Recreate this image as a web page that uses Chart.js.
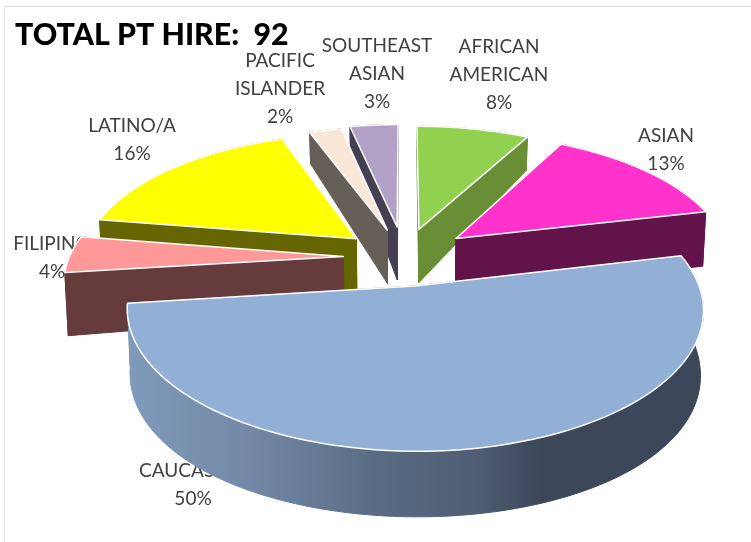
<!DOCTYPE html>
<html>
<head>
<meta charset="utf-8">
<title>Total PT hire</title>
<script src="https://cdn.jsdelivr.net/npm/chart.js@4"></script>
<style>
	html, body { margin: 0; padding: 0; background: #fff; overflow: hidden; }
	#frame { position: absolute; left: 4px; top: 6px; width: 760px; height: 550px; border-left: 1px solid #e2e2e2; border-top: 1px solid #e2e2e2; }
	#chart { position: absolute; left: 0; top: 0; }
</style>
</head>
<body>
<div id="frame"></div>
<canvas id="chart" width="751" height="542"></canvas>
<script>
var categories = ['AFRICAN AMERICAN', 'ASIAN', 'CAUCASIAN', 'FILIPINO', 'LATINO/A', 'PACIFIC ISLANDER', 'SOUTHEAST ASIAN'];
var hires = [7, 12, 46, 4, 15, 2, 3];
var percents = [8, 13, 50, 4, 16, 2, 3];
var sliceColors = ['#92d050', '#ff33cc', '#92b0d6', '#ff9999', '#ffff00', '#fbe7d8', '#b2a1c7'];
var wallColors = ['#688e36', '#62134a', '#3c4759', '#663b3b', '#666600', '#665f58', '#453f54'];
var exploded = [50, 53, 48, 48, 50, 49, 53];

// where each data label sits, and how its text wraps
var labelLines = [['AFRICAN', 'AMERICAN'], ['ASIAN'], ['CAUCASIAN'], ['FILIPINO'], ['LATINO/A'], ['PACIFIC', 'ISLANDER'], ['SOUTHEAST', 'ASIAN']];
var labelAnchors = [[499, 47], [666, 136], [193, 471], [52, 244], [132, 126], [280, 61], [377, 46]];
var lineHeight = 28;

// camera used to lay the flat pie on its side
var view = { x: 404, y: 257, f: 274, g: 128, k: 0.162 };

function project(X, Y, down) {
	var w = 1 - view.k * Y;
	var px = view.f * X / w;
	var py = view.g * Y / w;
	if (down) {
		py += 57 + 15 * Y - 6.5 * Y * Y + 3 * X * X;
		px *= 0.99;
	}
	return { x: view.x + px, y: view.y + py };
}

function tracePoints(ctx, pts) {
	ctx.beginPath();
	pts.forEach(function(p, i) {
		if (i == 0) ctx.moveTo(p.x, p.y);
		else ctx.lineTo(p.x, p.y);
	});
	ctx.closePath();
}

function drawSlice(ctx, arc, index) {
	var p = arc.getProps(['startAngle', 'endAngle', 'outerRadius'], true);
	var mid = (p.startAngle + p.endAngle) / 2;
	var e = arc.options.offset / p.outerRadius;
	var ex = e * Math.cos(mid), ey = e * Math.sin(mid);

	// outline in pie units: apex, then along the rim
	var rim = [];
	var steps = Math.max(4, Math.ceil((p.endAngle - p.startAngle) * 40));
	for (var i = 0; i <= steps; i++) {
		var a = p.startAngle + (p.endAngle - p.startAngle) * i / steps;
		rim.push([ex + Math.cos(a), ey + Math.sin(a)]);
	}
	var apex = [ex, ey];
	function top(q) { return project(q[0], q[1], false); }
	function bottom(q) { return project(q[0], q[1], true); }

	var wall = wallColors[index];
	if (index == 2) {
		// the big slice has a shaded side
		wall = ctx.createLinearGradient(126, 0, 540, 0);
		wall.addColorStop(0, '#809bba');
		wall.addColorStop(0.3, '#7288a6');
		wall.addColorStop(0.6, '#596c84');
		wall.addColorStop(0.85, '#4e5d73');
		wall.addColorStop(1, wallColors[index]);
	}
	ctx.fillStyle = wall;
	ctx.strokeStyle = wall;
	ctx.lineWidth = 1;

	// side faces first, the top face covers whatever should be hidden
	[rim[0], rim[steps]].forEach(function(corner) {
		tracePoints(ctx, [top(apex), top(corner), bottom(corner), bottom(apex)]);
		ctx.fill();
		ctx.stroke();
	});
	var side = rim.map(top).concat(rim.slice().reverse().map(bottom));
	tracePoints(ctx, side);
	ctx.fill();
	ctx.stroke();

	tracePoints(ctx, [top(apex)].concat(rim.map(top)));
	ctx.fillStyle = sliceColors[index];
	ctx.fill();
	ctx.strokeStyle = '#ffffff';
	ctx.lineWidth = 1.5;
	ctx.lineJoin = 'round';
	ctx.stroke();
}

function drawLabels(ctx) {
	ctx.fillStyle = '#404040';
	ctx.font = '19px Lato';
	ctx.textAlign = 'center';
	ctx.textBaseline = 'middle';
	categories.forEach(function(name, i) {
		var lines = labelLines[i].concat(percents[i] + '%');
		lines.forEach(function(line, j) {
			ctx.fillText(line, labelAnchors[i][0], labelAnchors[i][1] + j * lineHeight);
		});
	});
}

var tiltedPie = {
	id: 'tiltedPie',
	beforeDatasetDraw: function(chart, args) {
		var ctx = chart.ctx;
		var arcs = chart.getDatasetMeta(args.index).data;
		ctx.save();
		drawLabels(ctx);
		// far slices first
		var order = arcs.map(function(arc, i) { return i; });
		function depth(i) {
			var p = arcs[i].getProps(['startAngle', 'endAngle'], true);
			return Math.sin((p.startAngle + p.endAngle) / 2);
		}
		order.sort(function(a, b) { return depth(a) - depth(b); });
		order.forEach(function(i) { drawSlice(ctx, arcs[i], i); });
		ctx.restore();
		return false;
	}
};

var pie = new Chart(document.getElementById('chart').getContext('2d'), {
	type: 'pie',
	data: {
		labels: categories,
		datasets: [{
			data: hires,
			backgroundColor: sliceColors,
			borderColor: '#ffffff',
			offset: exploded
		}]
	},
	options: {
		responsive: false,
		animation: false,
		layout: { padding: { left: 15, top: 17 } },
		plugins: {
			legend: { display: false },
			tooltip: { enabled: false },
			title: {
				display: true,
				text: 'TOTAL PT HIRE:  92',
				align: 'start',
				color: '#000000',
				font: { family: 'Lato', size: 30.3, weight: '900' },
				padding: 0
			}
		}
	},
	plugins: [tiltedPie]
});
</script>
</body>
</html>
